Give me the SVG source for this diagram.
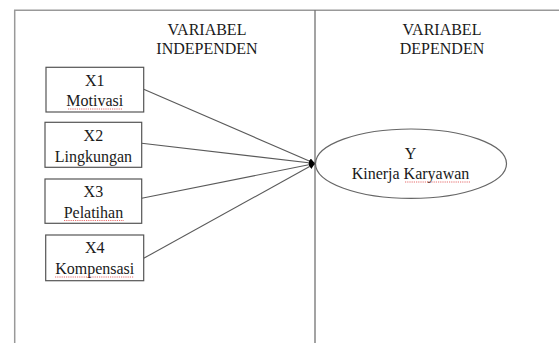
<svg xmlns="http://www.w3.org/2000/svg" width="559" height="343" viewBox="0 0 559 343">
<style>
text{font-family:"Liberation Serif","Times New Roman",serif;font-size:16px;fill:#1a1a1a;text-anchor:middle}
.box{fill:#fff;stroke:#555;stroke-width:1.2}
.frame{stroke:#999;stroke-width:1.5;fill:none}
.mid{stroke:#666;stroke-width:1.2}
.conn{stroke:#5a5a5a;stroke-width:1.1;fill:none;marker-end:url(#ah)}
.sq{stroke:#e04848;stroke-width:0.8;stroke-dasharray:1.2 1;fill:none}
</style>
<defs>
<marker id="ah" viewBox="0 0 10 10" refX="10" refY="5" markerWidth="6" markerHeight="6" markerUnits="userSpaceOnUse" orient="auto">
<path d="M0,0 L10,5 L0,10 z" fill="#000"/>
</marker>
</defs>
<rect width="559" height="343" fill="#fff"/>
<g id="frame">
<path class="frame" d="M14.7,343 V10.3 H559"/>
<line class="mid" x1="315" y1="10.3" x2="315" y2="343"/>
</g>
<g id="header-independen">
<text x="207" y="34.7">VARIABEL</text>
<text x="207" y="54.3">INDEPENDEN</text>
</g>
<g id="header-dependen">
<text x="442" y="34.7">VARIABEL</text>
<text x="442" y="54.3">DEPENDEN</text>
</g>
<g id="connectors">
<line class="conn" x1="143.7" y1="89.3" x2="315" y2="163.5"/>
<line class="conn" x1="141.7" y1="143.3" x2="315" y2="163.5"/>
<line class="conn" x1="141.7" y1="198.3" x2="315" y2="163.5"/>
<line class="conn" x1="143.7" y1="258.3" x2="315" y2="163.5"/>
</g>
<g id="x1">
<rect class="box" x="46" y="67.3" width="97.7" height="44.7"/>
<text x="94.8" y="86">X1</text>
<text x="94.8" y="106">Motivasi</text>
<path class="sq" d="M68,109 H122"/>
</g>
<g id="x2">
<rect class="box" x="45" y="122.3" width="96.7" height="45"/>
<text x="93.4" y="140.5">X2</text>
<text x="93.4" y="161.5">Lingkungan</text>
</g>
<g id="x3">
<rect class="box" x="45" y="179" width="96.7" height="44.3"/>
<text x="93.4" y="197">X3</text>
<text x="93.4" y="217.5">Pelatihan</text>
<path class="sq" d="M64,220.5 H124"/>
</g>
<g id="x4">
<rect class="box" x="45.7" y="235" width="98" height="45.7"/>
<text x="94.7" y="253.3">X4</text>
<text x="94.7" y="274">Kompensasi</text>
<path class="sq" d="M55,277 H134"/>
</g>
<g id="y">
<ellipse cx="411" cy="163.7" rx="95.5" ry="34.7" fill="#fff" stroke="#666" stroke-width="1.2"/>
<text x="410.5" y="159">Y</text>
<text x="410.5" y="179">Kinerja Karyawan</text>
<path class="sq" d="M405,182 H470"/>
</g>
</svg>
